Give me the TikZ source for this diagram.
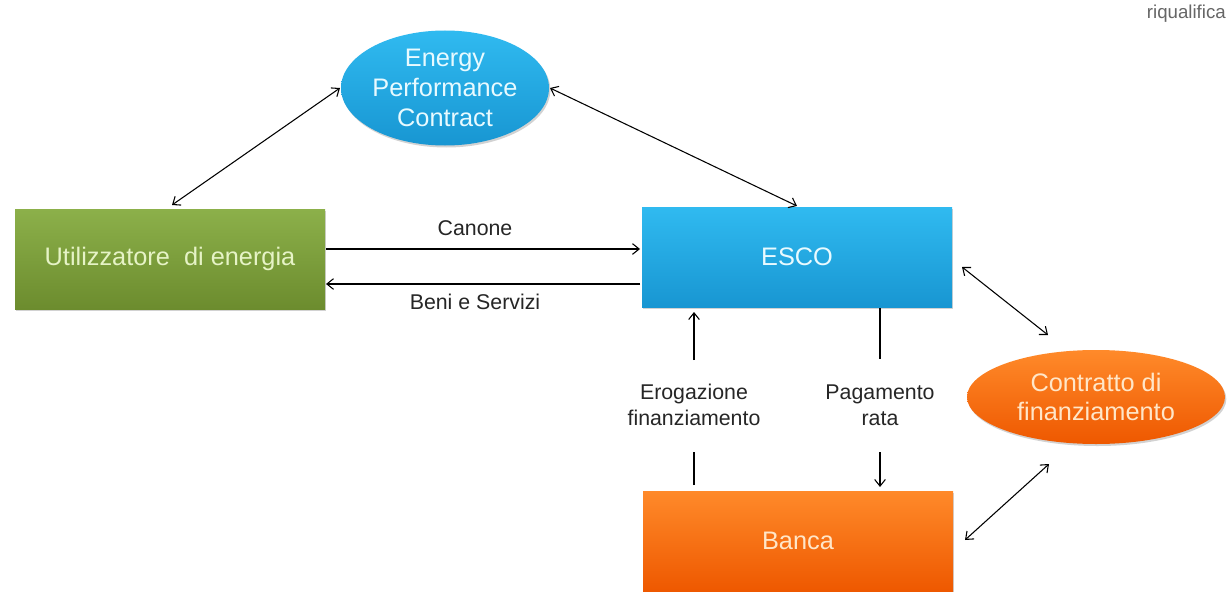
\documentclass[tikz,border=0pt]{standalone}
\usepackage{fontspec}
\setmainfont{Liberation Sans}
\usetikzlibrary{arrows.meta,shapes.geometric,shadows}
\definecolor{gtop}{HTML}{8CB04A}
\definecolor{gbot}{HTML}{6C8C2E}
\definecolor{btop}{HTML}{30BAF0}
\definecolor{bbot}{HTML}{1896D2}
\definecolor{otop}{HTML}{FF8A2A}
\definecolor{obot}{HTML}{EE5800}
\definecolor{gtxt}{HTML}{E6F3C6}
\definecolor{btxt}{HTML}{E8FAFF}
\definecolor{otxt}{HTML}{FFE6C8}
\tikzset{
  box/.style={rectangle, minimum width=310*0.75pt, minimum height=100*0.75pt, inner sep=0pt,
    drop shadow={shadow xshift=1pt, shadow yshift=-1.5pt, opacity=0.35}, font=\fontsize{19}{22}\selectfont},
  greenbox/.style={box, top color=gtop, bottom color=gbot, text=gtxt},
  bluebox/.style={box, top color=btop, bottom color=bbot, text=btxt},
  orangebox/.style={box, top color=otop, bottom color=obot, text=otxt},
  bell/.style={ellipse, inner sep=0pt, top color=btop, bottom color=bbot, text=btxt, align=center,
    drop shadow={shadow xshift=1pt, shadow yshift=-1.5pt, opacity=0.35}, font=\fontsize{19}{22.5}\selectfont},
  oell/.style={ellipse, inner sep=0pt, top color=otop, bottom color=obot, text=otxt, align=center,
    drop shadow={shadow xshift=1pt, shadow yshift=-1.5pt, opacity=0.35}, font=\fontsize{19}{22}\selectfont},
  conn/.style={line width=0.8pt, black},
  arr/.style={conn, -{Straight Barb[length=5pt,width=8pt]}},
  darr/.style={conn, {Straight Barb[length=5pt,width=8pt]}-{Straight Barb[length=5pt,width=8pt]}},
  lbl/.style={font=\fontsize{16}{19.5}\selectfont, text=black!85, align=center, inner sep=1pt}
}
\begin{document}
\begin{tikzpicture}[x=0.75pt,y=-0.75pt]
\path[use as bounding box, fill=white] (0,0) rectangle (1227,592);
\node[bell, minimum width=208*0.75pt, minimum height=115*0.75pt] (epc) at (445,88) {Energy\\Performance\\Contract};
\node[greenbox] (ut) at (170,259) {Utilizzatore\ \ di energia};
\node[bluebox] (esco) at (797,257) {ESCO};
\node[orangebox] (banca) at (798,541) {Banca};
\node[oell, minimum width=258*0.75pt, minimum height=94*0.75pt] (cf) at (1096,397) {Contratto di\\finanziamento};
\node[anchor=east, text=black!60, font=\fontsize{14}{16}\selectfont, inner sep=0pt] (riq) at (1226,14) {riqualifica};

\node[lbl] (canone) at (475,228) {Canone};
\node[lbl] (beni) at (475,302) {Beni e Servizi};
\node[lbl] (ero) at (694,405) {Erogazione\\finanziamento};
\node[lbl] (pag) at (880,405) {Pagamento\\rata};

\coordinate (e1) at (340,88);
\coordinate (u1) at (172,205);
\draw[darr] (e1) -- (u1);
\coordinate (e2) at (550,88);
\coordinate (s2) at (797,206);
\draw[darr] (e2) -- (s2);

\coordinate (ca) at (326,249);
\coordinate (cb) at (640,249);
\draw[arr] (ca) -- (cb);
\coordinate (ba) at (640,284);
\coordinate (bb) at (326,284);
\draw[arr] (ba) -- (bb);

\coordinate (er1) at (694,360);
\coordinate (er2) at (694,312);
\draw[arr] (er1) -- (er2);
\coordinate (er3) at (694,485);
\coordinate (er4) at (694,452);
\draw[conn] (er3) -- (er4);

\coordinate (pg1) at (880,308);
\coordinate (pg2) at (880,359);
\draw[conn] (pg1) -- (pg2);
\coordinate (pg3) at (880,452);
\coordinate (pg4) at (880,487);
\draw[arr] (pg3) -- (pg4);

\coordinate (es1) at (962,267);
\coordinate (cf1) at (1048,335);
\draw[darr] (es1) -- (cf1);
\coordinate (bn1) at (965,540);
\coordinate (cf2) at (1049,464);
\draw[darr] (bn1) -- (cf2);
\end{tikzpicture}
\end{document}
